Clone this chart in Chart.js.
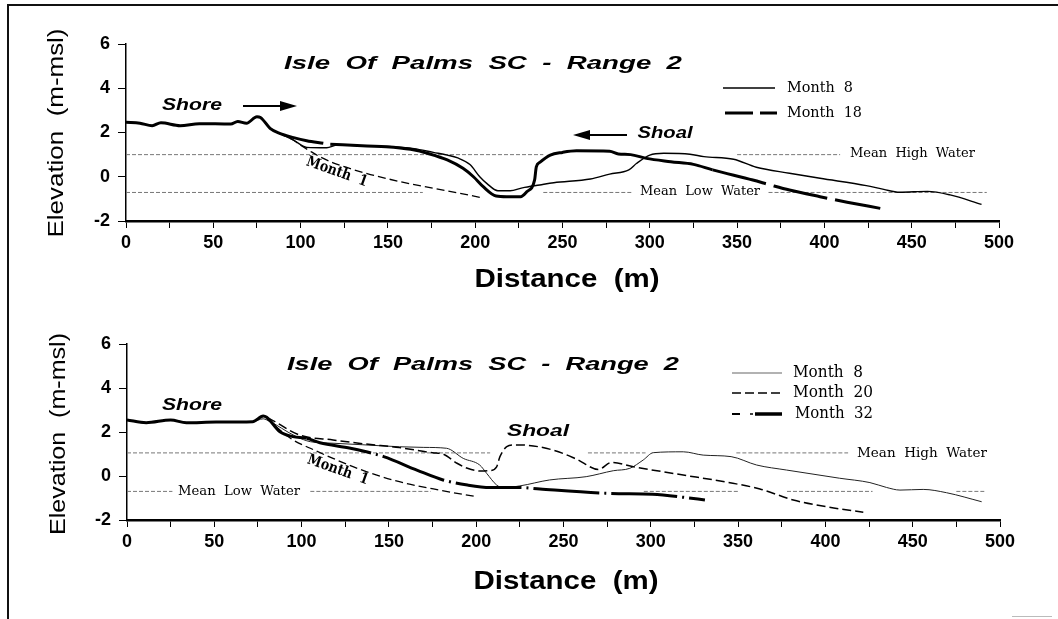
<!DOCTYPE html>
<html><head><meta charset="utf-8">
<script src="https://cdn.jsdelivr.net/npm/chart.js@4.4.1/dist/chart.umd.min.js"></script>
<style>
html,body{margin:0;padding:0;background:#fff;width:1058px;height:619px;overflow:hidden;}
#frame{position:absolute;left:7px;top:4px;width:1100px;height:700px;border-top:2px solid #111;border-left:2px solid #111;}
#speck{position:absolute;left:1012px;top:616px;width:40px;height:1px;background:#bbb;}
canvas{position:absolute;left:0;}
#c1{top:0}
#c2{top:300px}
</style></head><body>
<div id="frame"></div><div id="speck"></div>
<canvas id="c1" width="1058" height="300"></canvas>
<canvas id="c2" width="1058" height="319"></canvas>
<script>
// ---------------- DATA ----------------
const xTickValues = [0,50,100,150,200,250,300,350,400,450,500];
const yTickValues = [-2,0,2,4,6];

// Top panel
const topM18Dist = [0,8,15,20,31,42,60,64,69,75,77,82.5,88,96,103.5,113,115,117,138,149,163,174,184,193,199,204.6,212,218,226,229.5,234,235,237,243,250,258,277,282,289,298,312,325,336,359,369,380,397.5,413,432];
const topM18Elev = [2.46,2.42,2.31,2.44,2.31,2.40,2.38,2.50,2.42,2.71,2.68,2.19,1.96,1.77,1.63,1.51,null,1.47,1.39,1.36,1.24,1.03,0.76,0.38,0.0,-0.45,-0.87,-0.9,-0.9,-0.68,-0.15,0.45,0.65,0.98,1.1,1.17,1.15,1.03,1.0,0.83,0.68,0.56,0.31,-0.15,-0.37,-0.6,-0.9,-1.15,-1.43];
const topM8Dist = [0,8,15,20,31,42,60,64,69,75,77,82.5,88,96,103.5,115,121,138,150,165,176,184,190,197,202.6,206.6,213,220,227,237,245,266,277,288,292.5,300,308,323,331,348,361,380,397.5,424,434,443,459,472,490];
const topM8Elev = [2.46,2.42,2.31,2.44,2.31,2.40,2.38,2.50,2.42,2.71,2.68,2.19,1.96,1.65,1.33,1.31,1.43,1.39,1.37,1.27,1.1,0.98,0.85,0.55,0.0,-0.3,-0.63,-0.63,-0.5,-0.37,-0.27,-0.1,0.12,0.31,0.61,0.98,1.06,1.02,0.91,0.79,0.43,0.16,-0.07,-0.4,-0.57,-0.7,-0.66,-0.82,-1.25];
const topM1Dist = [88,95,100,105,110,119,130,140,157,176,190,204];
const topM1Elev = [1.96,1.7,1.42,1.18,0.95,0.62,0.33,0.1,-0.22,-0.52,-0.73,-0.95];
const topMHW = 1.0, topMLW = -0.71;
const topMHWSpans = [[0,239],[350,409]];
const topMLWSpans = [[0,170],[239,290],[368,493]];

// Bottom panel
const botM32Dist = [0,11,25,34,51,72,78,80,87.6,95,103,110.5,128,147,166,181,195,208,214,225,236.5,277,301,319,331];
const botM32Elev = [2.55,2.42,2.55,2.42,2.45,2.47,2.73,2.67,2.01,1.79,1.71,1.51,1.26,0.88,0.27,-0.18,-0.41,-0.52,-0.52,-0.52,-0.59,-0.79,-0.83,-0.97,-1.09];
const botM20Dist = [0,11,25,34,51,72,78,80,99,118,137,156,175,181,189,195,202,208,211.7,213.6,217.5,222,225,244,257.6,270,277.6,290,315,347,362.5,381.6,400.7,421.7];
const botM20Elev = [2.55,2.42,2.55,2.42,2.45,2.47,2.73,2.67,1.86,1.64,1.45,1.29,1.06,1.0,0.58,0.35,0.23,0.25,0.42,0.88,1.33,1.41,1.41,1.18,0.76,0.3,0.62,0.42,0.09,-0.33,-0.59,-1.09,-1.4,-1.65];
const botM8Dist = [0,11,25,34,51,72,78,80,97,105,118,135,156,170,183,192.6,202,206,211.7,215.5,225,242,263,278.5,288,295.7,301.4,318.6,330,346,360.6,377.8,408,425.5,435,442.7,456,469.4,489.5];
const botM8Elev = [2.55,2.42,2.55,2.42,2.45,2.47,2.6,2.55,1.79,1.56,1.49,1.42,1.33,1.3,1.26,0.8,0.5,0.12,-0.41,-0.53,-0.45,-0.18,-0.03,0.24,0.35,0.73,1.06,1.1,0.95,0.88,0.5,0.27,-0.1,-0.3,-0.52,-0.64,-0.61,-0.76,-1.17];
const botM1Dist = [80,95,105,118,137,156,175.5,200];
const botM1Elev = [2.6,1.64,1.26,0.8,0.2,-0.26,-0.59,-0.94];
const botMHW = 1.05, botMLW = -0.7;
const botMHWSpans = [[0,208],[264,297],[349,413]];
const botMLWSpans = [[0,26],[105,174],[296,350],[378,427],[475,491]];

// ---------------- HELPERS ----------------
const pts = (xs, ys) => xs.map((x, i) => ({x: x, y: ys[i]}));
function levelData(level, spans){
  const out = [];
  spans.forEach((s, i) => {
    if (i) out.push({x: (spans[i-1][1] + s[0]) / 2, y: null});
    out.push({x: s[0], y: level}, {x: s[1], y: level});
  });
  return out;
}
const tickFont = {family: 'Liberation Sans', weight: 'bold', size: 18};
function makeScales(yW, xH){
  return {
    x: {type: 'linear', min: 0, max: 500,
      afterFit: s => { s.height = xH; },
      ticks: {stepSize: 25, autoSkip: false, maxRotation: 0, minRotation: 0, padding: 4, color: '#000', font: tickFont,
        callback: v => xTickValues.includes(v) ? String(v) : ''},
      grid: {drawOnChartArea: false, drawTicks: true, tickLength: 7, color: '#000', lineWidth: 1},
      border: {display: true, color: '#000', width: 2.5}},
    y: {type: 'linear', min: -2, max: 6,
      afterFit: s => { s.width = yW; },
      ticks: {stepSize: 2, padding: 8, color: '#000', font: tickFont,
        callback: v => yTickValues.includes(v) ? String(v) : ''},
      grid: {drawOnChartArea: false, drawTicks: true, tickLength: 8, color: '#000', lineWidth: 1},
      border: {display: true, color: '#000', width: 1.5}}
  };
}
function line(label, data, width, color, dash, segDash){
  const d = {label, data, borderColor: color, borderWidth: width, pointRadius: 0, fill: false,
    cubicInterpolationMode: 'monotone', spanGaps: false, borderDash: dash || [], borderCapStyle: 'butt', borderJoinStyle: 'round'};
  if (segDash) d.segment = {borderDash: segDash};
  return d;
}
function refLine(label, data){
  return {label, data, borderColor: '#777', borderWidth: 1, pointRadius: 0, fill: false, tension: 0,
    spanGaps: false, borderDash: [4, 2]};
}
function fitText(ctx, text, cx, cy, font, width, rot){
  ctx.save();
  ctx.font = font;
  const w = ctx.measureText(text).width;
  ctx.translate(cx, cy);
  if (rot) ctx.rotate(rot);
  ctx.scale(width / w, 1);
  ctx.textAlign = 'center';
  ctx.textBaseline = 'middle';
  ctx.fillStyle = '#000';
  ctx.fillText(text, 0, 0);
  ctx.restore();
}
function leftText(ctx, text, x, cy, font, width){ fitText(ctx, text, x + width / 2, cy, font, width, 0); }
function arrow(ctx, tail, tip, y){
  const dir = tip > tail ? 1 : -1;
  const base = tip - dir * 17;
  ctx.save();
  ctx.strokeStyle = '#000'; ctx.fillStyle = '#000'; ctx.lineWidth = 2;
  ctx.beginPath(); ctx.moveTo(tail, y); ctx.lineTo(base, y); ctx.stroke();
  ctx.beginPath(); ctx.moveTo(tip, y); ctx.lineTo(base, y - 5); ctx.lineTo(base, y + 5); ctx.closePath(); ctx.fill();
  ctx.restore();
}
function seg(ctx, x1, x2, y, w, dash, color){
  ctx.save(); ctx.strokeStyle = color || '#000'; ctx.lineWidth = w; ctx.setLineDash(dash || []);
  ctx.beginPath(); ctx.moveTo(x1, y); ctx.lineTo(x2, y); ctx.stroke(); ctx.restore();
}
const TITLE = 'Isle  Of  Palms  SC  -  Range  2';
const sansBI = 'italic bold 19px "Liberation Sans"';
const serif = 'DejaVu Serif';

// ---------------- TOP CHART ----------------
new Chart(document.getElementById('c1'), {
  type: 'line',
  data: {datasets: [
    line('Month 18', pts(topM18Dist, topM18Elev), 3, '#000', [], c => c.p0.parsed.x >= 328 ? [55, 8] : []),
    line('Month 8', pts(topM8Dist, topM8Elev), 1.4, '#000'),
    line('Month 1', pts(topM1Dist, topM1Elev), 1.3, '#000', [8, 4]),
    refLine('Mean High Water', levelData(topMHW, topMHWSpans)),
    refLine('Mean Low Water', levelData(topMLW, topMLWSpans))
  ]},
  options: {
    responsive: false, animation: false, devicePixelRatio: 1,
    layout: {padding: {left: 0, top: 44, right: 59, bottom: 0}},
    scales: makeScales(126, 79),
    plugins: {legend: {display: false}, tooltip: {enabled: false}}
  },
  plugins: [{id: 'decorTop', afterDraw(chart){
    const ctx = chart.ctx;
    fitText(ctx, TITLE, 483, 64, sansBI, 398);
    fitText(ctx, 'Elevation  (m-msl)', 57, 133, '22px "Liberation Sans"', 209, -Math.PI / 2);
    fitText(ctx, 'Distance  (m)', 567, 280, 'bold 25px "Liberation Sans"', 185);
    fitText(ctx, 'Shore', 192, 105, 'italic bold 17px "Liberation Sans"', 60);
    arrow(ctx, 243, 297, 106);
    fitText(ctx, 'Shoal', 665, 133, 'italic bold 17px "Liberation Sans"', 55);
    arrow(ctx, 627, 573, 135);
    // legend
    seg(ctx, 723, 775, 88, 1.5);
    seg(ctx, 725, 777, 113, 3, [28, 7]);
    leftText(ctx, 'Month  8', 787, 88, '15px "' + serif + '"', 66);
    leftText(ctx, 'Month  18', 787, 113, '15px "' + serif + '"', 75);
    // level labels
    leftText(ctx, 'Mean  High  Water', 850, 154, '13px "' + serif + '"', 125);
    leftText(ctx, 'Mean  Low  Water', 640, 192, '13px "' + serif + '"', 120);
    fitText(ctx, 'Month  1', 337, 172, 'bold 15px "' + serif + '"', 64, 0.34);
  }}]
});

// ---------------- BOTTOM CHART ----------------
new Chart(document.getElementById('c2'), {
  type: 'line',
  data: {datasets: [
    line('Month 32', pts(botM32Dist, botM32Elev), 3, '#000', [], c => c.p0.parsed.x >= 103 ? [66, 5, 2, 5] : []),
    line('Month 20', pts(botM20Dist, botM20Elev), 1.5, '#000', [9, 4]),
    line('Month 8', pts(botM8Dist, botM8Elev), 1, '#222'),
    line('Month 1', pts(botM1Dist, botM1Elev), 1.3, '#000', [8, 4]),
    refLine('Mean High Water', levelData(botMHW, botMHWSpans)),
    refLine('Mean Low Water', levelData(botMLW, botMLWSpans))
  ]},
  options: {
    responsive: false, animation: false, devicePixelRatio: 1,
    layout: {padding: {left: 0, top: 44, right: 58, bottom: 0}},
    scales: makeScales(127, 99),
    plugins: {legend: {display: false}, tooltip: {enabled: false}}
  },
  plugins: [{id: 'decorBot', afterDraw(chart){
    const ctx = chart.ctx;
    fitText(ctx, TITLE, 483, 65, sansBI, 392);
    fitText(ctx, 'Elevation  (m-msl)', 59, 134, '22px "Liberation Sans"', 202, -Math.PI / 2);
    fitText(ctx, 'Distance  (m)', 566, 282, 'bold 25px "Liberation Sans"', 185);
    fitText(ctx, 'Shore', 192, 105, 'italic bold 17px "Liberation Sans"', 60);
    fitText(ctx, 'Shoal', 538, 131, 'italic bold 17px "Liberation Sans"', 62);
    // legend
    seg(ctx, 732, 782, 73, 1.5, [], '#999');
    seg(ctx, 732, 782, 93, 1.6, [9, 4]);
    seg(ctx, 732, 740, 114, 2);
    seg(ctx, 750, 753, 114, 1.5);
    seg(ctx, 755, 782, 114, 3.5);
    leftText(ctx, 'Month  8', 793, 73, '16px "' + serif + '"', 70);
    leftText(ctx, 'Month  20', 793, 93, '16px "' + serif + '"', 80);
    leftText(ctx, 'Month  32', 795, 114, '16px "' + serif + '"', 78);
    // level labels
    leftText(ctx, 'Mean  High  Water', 857, 153, '13.5px "' + serif + '"', 130);
    leftText(ctx, 'Mean  Low  Water', 178, 191, '13.5px "' + serif + '"', 122);
    fitText(ctx, 'Month  1', 338, 170, 'bold 15px "' + serif + '"', 64, 0.34);
  }}]
});
</script></body></html>
